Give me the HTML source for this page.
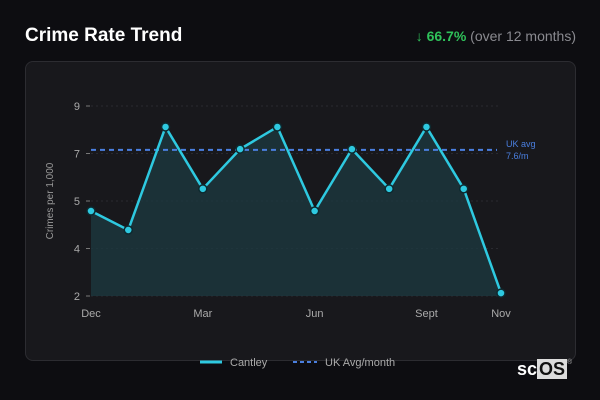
<!DOCTYPE html>
<html><head><meta charset="utf-8"><style>
body{margin:0;width:600px;height:400px;background:#0d0d11;font-family:"Liberation Sans",sans-serif;overflow:hidden;position:relative}
.t{position:absolute;left:25px;top:25px;color:#fff;font-weight:bold;font-size:19px}
.ch{position:absolute;right:24px;top:28px;font-size:14px;color:#8a8a90}
.ch b{color:#2fc15a}
.panel{position:absolute;left:25px;top:61px;width:549px;height:298px;background:#18181c;border:1px solid #2c2c31;border-radius:8px}
svg{position:absolute;left:0;top:0}
.logo{position:absolute;left:517px;top:359px;color:#fff;font-weight:bold;font-size:18px}
.logo span{background:#dcdcdc;color:#111;padding:0 2px}
.logo sup{font-size:7px;color:#aaa;font-weight:normal;vertical-align:top}
</style></head><body>
<div class="t">Crime Rate Trend</div>
<div class="ch"><b>↓ 66.7%</b> (over 12 months)</div>
<div class="panel"></div>
<svg id="c" width="600" height="400"></svg>
<div class="logo">sc<span>OS</span><sup>®</sup></div>
<script>
const months=["Dec","Jan","Feb","Mar","Apr","May","Jun","Jul","Aug","Sept","Oct","Nov"];
const xLabels=["Dec","Mar","Jun","Sept","Nov"];
const values=[5.09,4.31,8.54,6.0,7.63,8.54,5.09,7.63,6.0,8.54,6.0,1.72];
const ukAvg=7.6;
const tickVals=[1.6,3.55,5.5,7.45,9.4];
const tickLabels=["2","4","5","7","9"];
const y0=1.6,y1=9.4,py0=296,py1=106,px0=91,px1=501;
const X=i=>px0+(px1-px0)*i/(months.length-1);
const Y=v=>py0+(py1-py0)*(v-y0)/(y1-y0);
const s=document.getElementById('c');const NS="http://www.w3.org/2000/svg";
function mk(t,a,txt){const e=document.createElementNS(NS,t);for(const k in a)e.setAttribute(k,a[k]);if(txt!=null)e.textContent=txt;s.appendChild(e);return e;}
tickVals.forEach((v,i)=>{
 let g=mk('line',{x1:91,x2:501,y1:Y(v),y2:Y(v),stroke:'#2a2a30','stroke-dasharray':'2,3'});
 
 
 mk('line',{x1:86,x2:90,y1:Y(v),y2:Y(v),stroke:'#777'});
 let t=mk('text',{x:80,y:Y(v)+4,'text-anchor':'end',fill:'#aaa','font-size':11},tickLabels[i]);
 
 
});
xLabels.forEach(l=>{
 let t=mk('text',{x:X(months.indexOf(l)),y:317,'text-anchor':'middle',fill:'#aaa','font-size':11},l);
 
 
});
let yt=mk('text',{x:0,y:0,transform:'translate(53,201) rotate(-90)','text-anchor':'middle',fill:'#999','font-size':10},'Crimes per 1,000');


let pts=values.map((v,i)=>X(i)+','+Y(v)).join(' ');
let area=mk('polygon',{points:X(0)+','+py0+' '+pts+' '+X(values.length-1)+','+py0,fill:'#1c3a40','fill-opacity':0.75});


let ua=mk('line',{x1:91,x2:497,y1:Y(ukAvg),y2:Y(ukAvg),stroke:'#4a7fe0','stroke-width':2,'stroke-dasharray':'5,4'});


mk('text',{x:506,y:Y(ukAvg)-3,fill:'#4a7fe0','font-size':9},'UK avg');
mk('text',{x:506,y:Y(ukAvg)+9,fill:'#4a7fe0','font-size':9},ukAvg+'/m');
let ln=mk('polyline',{points:pts,fill:'none',stroke:'#2ec9e0','stroke-width':2.5,'stroke-linejoin':'round'});


values.forEach((v,i)=>{
 let c=mk('circle',{cx:X(i),cy:Y(v),r:4,fill:'#2ec9e0',stroke:'#0d2a30','stroke-width':1.5});
 
 
});
let l1=mk('line',{x1:200,x2:222,y1:362,y2:362,stroke:'#2ec9e0','stroke-width':3});


mk('text',{x:230,y:366,fill:'#aaa','font-size':11},'Cantley');
let l2=mk('line',{x1:293,x2:317,y1:362,y2:362,stroke:'#4a7fe0','stroke-width':2,'stroke-dasharray':'4,3'});


mk('text',{x:325,y:366,fill:'#aaa','font-size':11},'UK Avg/month');
</script>
</body></html>
